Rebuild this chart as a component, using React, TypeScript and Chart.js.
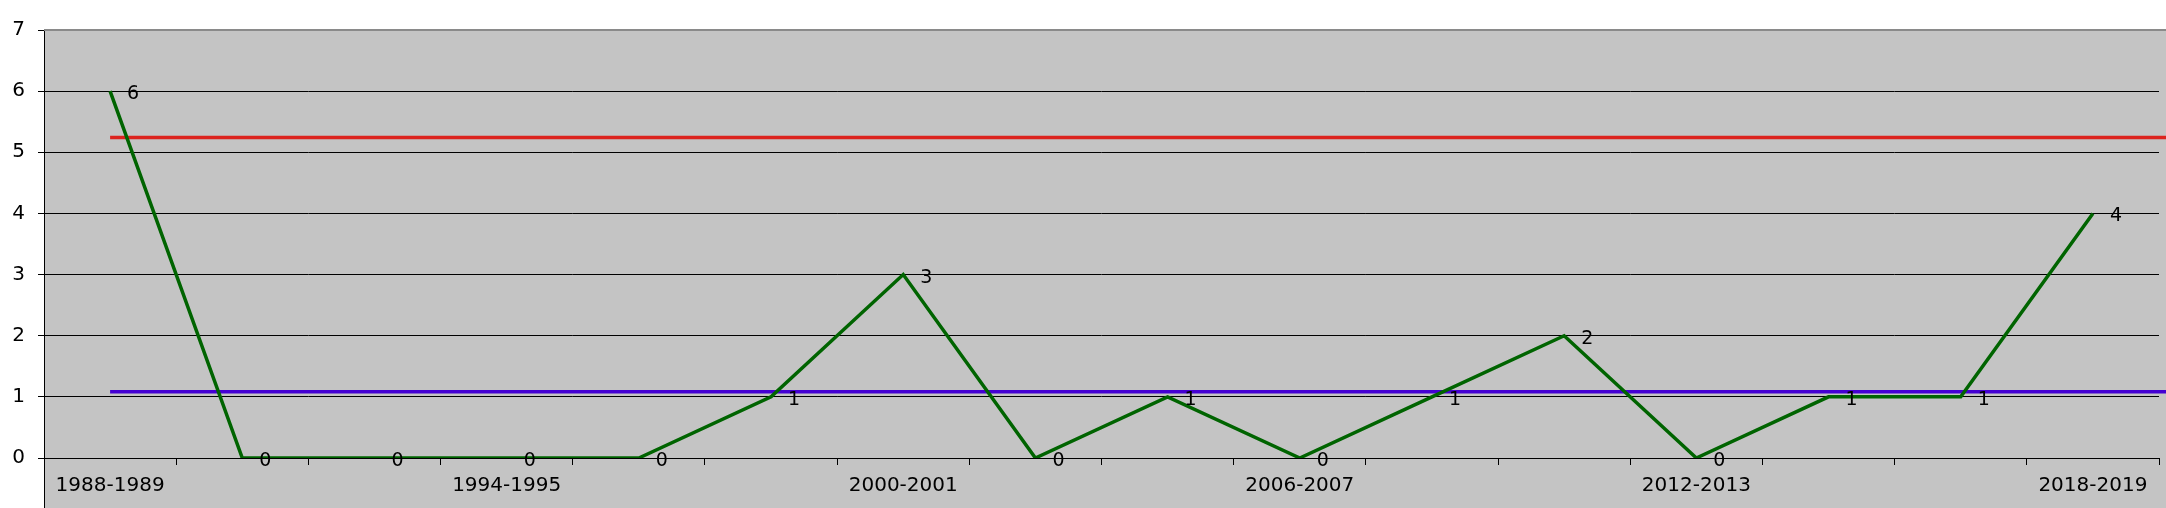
import React, { useEffect, useRef } from 'react';
import { Chart, registerables } from 'chart.js';

Chart.register(...registerables);

const categories: string[] = [
  '1988-1989', '1990-1991', '1992-1993', '1994-1995', '1996-1997', '1998-1999',
  '2000-2001', '2002-2003', '2004-2005', '2006-2007', '2008-2009', '2010-2011',
  '2012-2013', '2014-2015', '2016-2017', '2018-2019',
];
const counts: number[] = [6, 0, 0, 0, 0, 1, 3, 0, 1, 0, 1, 2, 0, 1, 1, 4];
const upperLevel: number = 5.24;
const meanLevel: number = 1.085;
const yMin = 0;
const yMax = 7;
const labelEvery = 3;

const FONT = "'DejaVu Sans', Verdana, sans-serif";

const backgroundPlugin = {
  id: 'plotBackground',
  beforeDraw(chart: any) {
    const { ctx, chartArea, width, height } = chart;
    ctx.save();
    ctx.fillStyle = '#ffffff';
    ctx.fillRect(0, 0, width, height);
    ctx.fillStyle = '#c4c4c4';
    ctx.fillRect(chartArea.left, chartArea.top, width - chartArea.left, height - chartArea.top);
    ctx.restore();
  },
  afterDraw(chart: any) {
    const { ctx, chartArea, width, height } = chart;
    ctx.save();
    ctx.strokeStyle = '#000000';
    ctx.lineWidth = 1;
    ctx.beginPath();
    const x = Math.round(chartArea.left) + 0.5;
    ctx.moveTo(x, chartArea.top);
    ctx.lineTo(x, height);
    ctx.stroke();
    ctx.strokeStyle = '#8a8a8a';
    ctx.lineWidth = 2;
    ctx.beginPath();
    ctx.moveTo(chartArea.left, Math.round(chartArea.top));
    ctx.lineTo(width, Math.round(chartArea.top));
    ctx.stroke();
    ctx.restore();
  },
};

const valueLabelPlugin = {
  id: 'valueLabels',
  afterDatasetsDraw(chart: any) {
    const { ctx } = chart;
    const meta = chart.getDatasetMeta(0);
    const data = chart.data.datasets[0].data as number[];
    ctx.save();
    ctx.font = `19px ${FONT}`;
    ctx.fillStyle = '#000000';
    ctx.textAlign = 'left';
    ctx.textBaseline = 'middle';
    meta.data.forEach((pt: any, i: number) => {
      ctx.fillText(String(data[i]), pt.x + 17, pt.y + 3);
    });
    ctx.restore();
  },
};

export default function App() {
  const canvasRef = useRef<HTMLCanvasElement | null>(null);

  useEffect(() => {
    document.body.style.margin = '0';
    const canvas = canvasRef.current;
    if (!canvas) return;
    const chart = new Chart(canvas, {
      type: 'line',
      data: {
        labels: categories,
        datasets: [
          {
            data: counts,
            borderColor: '#006400',
            borderWidth: 3.5,
            pointRadius: 0,
            tension: 0,
            xAxisID: 'x',
            order: 0,
          },
          {
            data: [
              { x: 0, y: upperLevel },
              { x: categories.length, y: upperLevel },
            ],
            borderColor: '#dc231e',
            borderWidth: 3.5,
            pointRadius: 0,
            xAxisID: 'x2',
            clip: false as any,
            order: 1,
          },
          {
            data: [
              { x: 0, y: meanLevel },
              { x: categories.length, y: meanLevel },
            ],
            borderColor: '#4400d2',
            borderWidth: 3.5,
            pointRadius: 0,
            xAxisID: 'x2',
            clip: false as any,
            order: 1,
          },
        ] as any,
      },
      options: {
        responsive: false,
        animation: false,
        devicePixelRatio: 1,
        layout: { padding: { top: 30, right: 7, left: 0, bottom: 0 } },
        plugins: {
          legend: { display: false },
          tooltip: { enabled: false },
        },
        scales: {
          x: {
            type: 'category',
            offset: true,
            afterFit(scale: any) {
              scale.height = 50;
            },
            grid: {
              display: true,
              offset: true,
              drawOnChartArea: false,
              drawTicks: true,
              tickLength: 7,
              color: '#000000',
            },
            border: { display: true, color: '#000000', width: 1 },
            ticks: {
              autoSkip: false,
              maxRotation: 0,
              minRotation: 0,
              padding: 9,
              color: '#000000',
              font: { family: FONT, size: 20 },
              callback: (_v: any, i: number) => (i % labelEvery === 0 ? categories[i] : ''),
            },
          },
          x2: {
            type: 'linear',
            display: false,
            min: -0.5,
            max: categories.length - 0.5,
          },
          y: {
            min: yMin,
            max: yMax,
            afterFit(scale: any) {
              scale.width = 44;
            },
            grid: {
              color: (c: any) => (c.tick && c.tick.value === yMax ? 'rgba(0,0,0,0)' : '#000000'),
              tickColor: '#000000',
              tickLength: 6,
              lineWidth: 1,
            },
            border: { display: false },
            ticks: {
              stepSize: 1,
              padding: 13,
              color: '#000000',
              font: { family: FONT, size: 20 },
            },
          },
        },
      } as any,
      plugins: [backgroundPlugin, valueLabelPlugin],
    });
    return () => chart.destroy();
  }, []);

  return <canvas ref={canvasRef} width={2166} height={508} style={{ display: 'block' }} />;
}
